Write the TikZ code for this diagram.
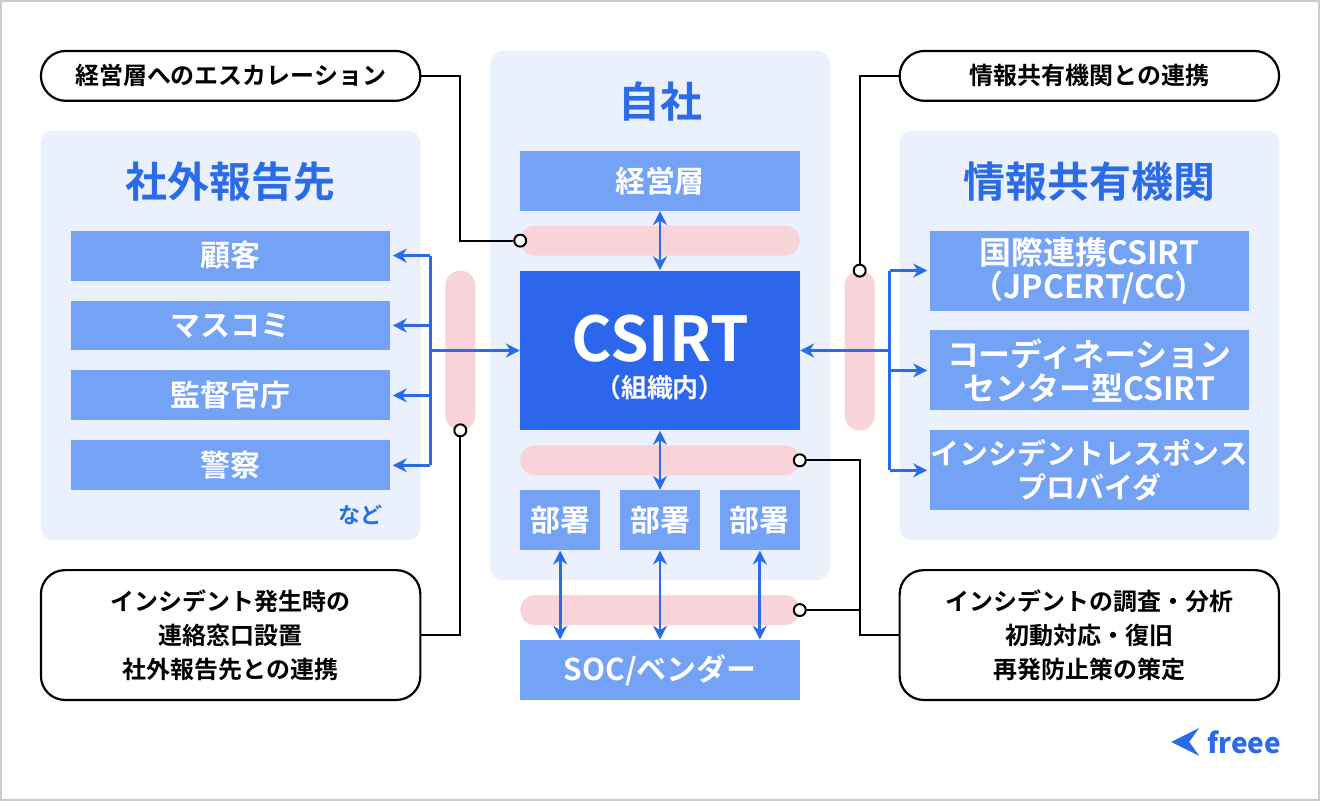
\documentclass[tikz,border=0pt]{standalone}
\usepackage{fontspec}
\setmainfont{Noto Sans CJK JP}[BoldFont={Noto Sans CJK JP Bold}]
\usetikzlibrary{arrows.meta}
\definecolor{panel}{HTML}{EAF1FC}
\definecolor{mblue}{HTML}{74A3F6}
\definecolor{dblue}{HTML}{2C66EC}
\definecolor{tblue}{HTML}{2B6BE8}
\definecolor{pink}{HTML}{F8D4DA}
\tikzset{
 panel/.style={fill=panel,rounded corners=6pt,draw=none},
 box/.style={fill=mblue,text=white,font=\bfseries\fontsize{15}{17}\selectfont,align=center,inner sep=0},
 rbox/.style={box,font=\bfseries\fontsize{16}{17}\selectfont},
 bar/.style={fill=pink,rounded corners=7.5pt},
 call/.style={draw=black,line width=1.1pt,fill=white,font=\bfseries\fontsize{12}{17}\selectfont,align=center},
 ln/.style={line width=1pt,black},
 dot/.style={circle,draw=black,line width=1pt,fill=white,minimum size=6pt,inner sep=0},
 arr/.style={line width=1.4pt,tblue,-{Stealth[length=7pt,width=7pt]}},
 darr/.style={line width=1.4pt,tblue,{Stealth[length=7pt,width=7pt]}-{Stealth[length=7pt,width=7pt]}},
 ttl/.style={text=tblue,font=\bfseries\fontsize{21}{24}\selectfont}
}
\begin{document}
\begin{tikzpicture}[x=0.5pt,y=-0.5pt]
\path[fill=white,draw=black!20,line width=1pt] (0,0) rectangle (1320,800);
\useasboundingbox (0,0) rectangle (1320,800);
% panels
\path[panel] (40,130) rectangle (420,540);
\path[panel] (490,50) rectangle (830,580);
\path[panel] (900,130) rectangle (1280,540);
\node[ttl] (t1) at (230,181) {社外報告先};
\node[ttl] (t2) at (660,101) {自社};
\node[ttl] (t3) at (1090,181) {情報共有機関};
% pink bars
\path[bar] (520,225) rectangle (800,255);
\path[bar] (520,445) rectangle (800,475);
\path[bar] (520,595) rectangle (800,625);
\path[bar] (445,270) rectangle (475,430);
\path[bar] (845,270) rectangle (875,430);
% left boxes
\foreach \n/\y/\t in {a/255/顧客,b/325/マスコミ,c/395/監督官庁,d/465/警察}
 \node[box,minimum width=160pt,minimum height=25pt] (\n) at (230,\y) {\t};
\node[text=tblue,font=\bfseries\fontsize{11}{12}\selectfont] (nado) at (360,515) {など};
% center
\node[box,minimum width=140pt,minimum height=30pt] (keiei) at (660,180) {経営層};
\node[box,fill=dblue,minimum width=140pt,minimum height=80pt] (csirt) at (660,350) {};
\node[text=white,font=\bfseries\fontsize{31}{33}\selectfont] (cs) at (660,338) {CSIRT};
\node[text=white,font=\bfseries\fontsize{13}{14}\selectfont] (cs2) at (660,387) {（組織内）};
\foreach \n/\x in {b1/560,b2/660,b3/760}
 \node[box,minimum width=40pt,minimum height=30pt] (\n) at (\x,520) {部署};
\node[box,minimum width=140pt,minimum height=30pt] (soc) at (660,670) {SOC/ベンダー};
% right boxes
\node[rbox,minimum width=160pt,minimum height=40pt] (r1) at (1090,270) {国際連携CSIRT\\（JPCERT/CC）};
\node[rbox,minimum width=160pt,minimum height=40pt] (r2) at (1090,370) {コーディネーション\\センター型CSIRT};
\node[rbox,font=\bfseries\fontsize{14.5}{17}\selectfont,minimum width=160pt,minimum height=40pt] (r3) at (1090,470) {インシデントレスポンス\\プロバイダ};
% arrows center
\draw[darr] (keiei.south) -- (csirt.north);
\draw[darr] (csirt.south) -- (b2.north);
\foreach \n in {b1,b2,b3} \draw[darr] (\n.south) -- (\n.south |- soc.north);
% left arrows
\coordinate (lt) at (430,255); \coordinate (lb) at (430,465); \coordinate (lm) at (430,350);
\draw[line width=1.4pt,tblue] (lt) -- (lb);
\foreach \n in {a,b,c,d} \draw[arr] (430,0 |- \n.east) -- ([xshift=1pt]\n.east);
\draw[arr] (lm) -- (csirt.west);
% right arrows
\coordinate (rt) at (890,270); \coordinate (rb) at (890,470); \coordinate (rm) at (890,350);
\draw[line width=1.4pt,tblue] (rt) -- (rb);
\draw[arr] (rm) -- (csirt.east);
\foreach \n in {r1,r2,r3} \draw[arr] (890,0 |- \n.west) -- ([xshift=-1pt]\n.west);
% callouts
\node[call,rounded corners=12.5pt,minimum width=190pt,minimum height=25pt] (c1) at (230,75) {経営層へのエスカレーション};
\node[call,rounded corners=12.5pt,minimum width=190pt,minimum height=25pt] (c2) at (1090,75) {情報共有機関との連携};
\node[call,rounded corners=12pt,minimum width=190pt,minimum height=65pt] (c3) at (230,635) {インシデント発生時の\\連絡窓口設置\\社外報告先との連携};
\node[call,rounded corners=12pt,minimum width=190pt,minimum height=65pt] (c4) at (1090,635) {インシデントの調査・分析\\初動対応・復旧\\再発防止策の策定};
\node[dot] (d1) at (520,240) {};
\node[dot] (d2) at (860,270) {};
\node[dot] (d3) at (460,430) {};
\node[dot] (d4) at (800,460) {};
\node[dot] (d5) at (800,610) {};
\draw[ln] (c1.east) -| (460,240) -- (d1);
\draw[ln] (c2.west) -| (d2);
\draw[ln] (c3.east) -| (d3);
\draw[ln] (d4) -| (860,635) -- (c4.west);
\draw[ln] (d5) -- (860,610);
% logo
\node[text=tblue,font=\itshape\bfseries\fontsize{14}{16}\selectfont] (logo) at (1245,742) {freee};
\path[fill=tblue] (1172,742) -- (1200,728) -- (1190,742) -- (1200,756) -- cycle;
\end{tikzpicture}
\end{document}
